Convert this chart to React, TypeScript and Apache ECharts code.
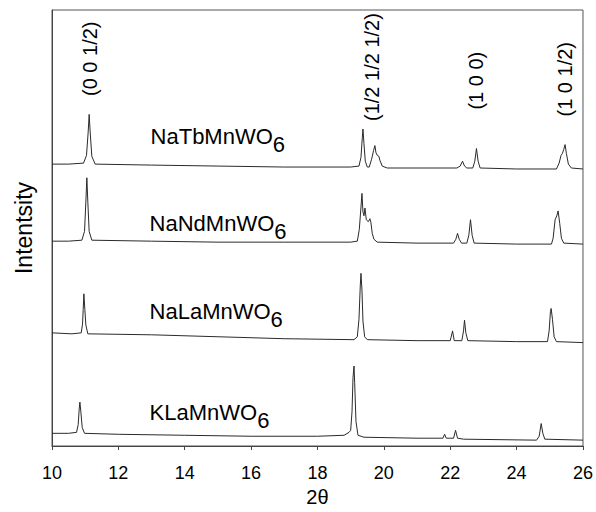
import React, { useEffect, useRef } from "react";
import * as echarts from "echarts";

// 2θ range and ticks
const xMin = 10;
const xMax = 26;
const xStep = 2;
// arbitrary intensity scale (stacked, offset traces)
const yMin = 0;
const yMax = 447;

// [2θ, intensity]
const naTbMnWO6: number[][] = [
  [10, 289], [10.5, 289], [10.95, 290], [11.04, 298], [11.09, 322], [11.12, 340], [11.15, 322], [11.2, 297], [11.3, 289],
  [13, 288], [15, 287], [17, 286], [19, 286], [19.25, 287], [19.31, 296], [19.35, 316], [19.37, 325], [19.4, 310],
  [19.44, 292], [19.5, 286], [19.56, 286], [19.63, 294], [19.69, 303], [19.73, 308], [19.76, 301], [19.8, 298],
  [19.85, 297], [19.88, 293], [19.95, 287], [20.1, 285], [21, 285], [22.2, 285], [22.3, 287], [22.37, 292],
  [22.43, 287], [22.5, 285], [22.68, 285], [22.74, 292], [22.79, 305], [22.84, 292], [22.9, 285], [24, 284],
  [25.2, 284], [25.28, 290], [25.34, 298], [25.38, 300], [25.42, 304], [25.46, 309], [25.5, 300], [25.56, 289],
  [25.65, 285], [26, 284],
];

const naNdMnWO6: number[][] = [
  [10, 210], [10.5, 210], [10.9, 211], [10.98, 220], [11.02, 250], [11.05, 275], [11.08, 250], [11.12, 220], [11.2, 211],
  [13, 210], [15, 209], [17, 209], [19, 209], [19.2, 210], [19.26, 222], [19.31, 245], [19.34, 259], [19.37, 240],
  [19.4, 236], [19.43, 244], [19.47, 232], [19.53, 230], [19.58, 233], [19.61, 229], [19.65, 218], [19.7, 212],
  [19.8, 209], [21, 208], [22.1, 208], [22.17, 212], [22.22, 218], [22.27, 212], [22.34, 208], [22.5, 208],
  [22.56, 216], [22.61, 232], [22.66, 216], [22.72, 208], [24, 207], [25.05, 207], [25.1, 213], [25.16, 232],
  [25.21, 236], [25.25, 241], [25.3, 228], [25.35, 213], [25.42, 208], [26, 207],
];

const naLaMnWO6: number[][] = [
  [10, 116], [10.6, 115], [10.88, 116], [10.92, 125], [10.94, 140], [10.96, 156], [10.99, 140], [11.02, 124], [11.08, 115],
  [13, 114], [15, 112], [17, 110], [19.1, 109], [19.2, 112], [19.25, 130], [19.29, 165], [19.31, 177], [19.34, 160],
  [19.37, 128], [19.42, 112], [19.5, 109], [21, 108], [22.0, 108], [22.07, 118], [22.12, 108], [22.35, 108],
  [22.4, 118], [22.43, 129], [22.47, 116], [22.53, 108], [24, 107], [24.93, 107], [24.98, 118], [25.02, 138],
  [25.04, 141], [25.08, 130], [25.13, 112], [25.2, 107], [26, 106],
];

const kLaMnWO6: number[][] = [
  [10, 13], [10.5, 13], [10.74, 14], [10.79, 22], [10.82, 38], [10.84, 45], [10.87, 35], [10.91, 19], [10.98, 13],
  [12, 12], [14, 11], [16, 10], [18, 10], [18.8, 11], [18.95, 14], [19.0, 16], [19.04, 35], [19.07, 70], [19.1, 82],
  [19.12, 65], [19.16, 25], [19.22, 11], [19.4, 9], [21, 8], [21.78, 8], [21.83, 12], [21.88, 8], [22.1, 8],
  [22.16, 16], [22.22, 8], [22.4, 7], [24.6, 6], [24.68, 10], [24.74, 23], [24.79, 13], [24.85, 7], [26, 6],
];

// compound names: main text, subscript, anchor 2θ (left edge), anchor intensity (text middle)
const compoundNames: string[] = ["NaTbMnWO", "NaNdMnWO", "NaLaMnWO", "KLaMnWO"];
const compoundSub = "6";
const compoundAnchorX: number[] = [12.97, 12.94, 12.94, 12.94];
const compoundAnchorY: number[] = [317, 228.5, 137.5, 34.5];

// reflection (hkl) annotations
const hklLabels: string[] = ["(0 0 1/2)", "(1/2 1/2 1/2)", "(1 0 0)", "(1 0 1/2)"];
const hklX: number[] = [11.14, 19.64, 22.79, 25.46];
const hklY: number[] = [397, 388.5, 374.5, 376];

const traces = [naTbMnWO6, naNdMnWO6, naLaMnWO6, kLaMnWO6];

const FONT = "'Liberation Sans', Arial, sans-serif";
const NAME_SIZE = 22;
const SUB_DROP = 8;

export default function App() {
  const ref = useRef<HTMLDivElement>(null);

  useEffect(() => {
    if (!ref.current) return;
    const chart = echarts.init(ref.current, undefined, { renderer: "svg" });

    const series: any[] = traces.map((data, i) => {
      const s: any = {
        type: "line",
        data,
        showSymbol: false,
        symbol: "none",
        lineStyle: { color: "#2a2a2a", width: 1 },
        silent: true,
      };
      if (i === 0) {
        s.markPoint = {
          symbol: "circle",
          symbolSize: 0,
          itemStyle: { color: "transparent" },
          silent: true,
          data: hklLabels.map((t, k) => ({
            coord: [hklX[k], hklY[k]],
            label: {
              show: true,
              position: "inside",
              rotate: 90,
              align: "center",
              verticalAlign: "middle",
              formatter: t,
              fontSize: 20,
              fontFamily: FONT,
              color: "#000",
            },
          })),
        };
      }
      return s;
    });

    chart.setOption({
      animation: false,
      backgroundColor: "#fff",
      grid: {
        left: 52,
        right: 11,
        top: 10,
        bottom: 55,
        show: true,
        borderColor: "#555",
        borderWidth: 1,
        backgroundColor: "transparent",
      },
      xAxis: {
        type: "value",
        min: xMin,
        max: xMax,
        interval: xStep,
        name: "2θ",
        nameLocation: "middle",
        nameGap: 41,
        nameTextStyle: { fontSize: 20, fontFamily: FONT, color: "#000" },
        axisLine: { show: true, lineStyle: { color: "#444", width: 1 } },
        axisTick: { show: true, inside: false, length: 4, lineStyle: { color: "#444" } },
        axisLabel: { fontSize: 18, fontFamily: FONT, color: "#000", margin: 18 },
        splitLine: { show: false },
      },
      yAxis: {
        type: "value",
        min: yMin,
        max: yMax,
        name: "Intentsity",
        nameLocation: "middle",
        nameRotate: 90,
        nameGap: 17,
        nameTextStyle: { fontSize: 23, fontFamily: FONT, color: "#000" },
        axisLine: { show: true, lineStyle: { color: "#444", width: 1 } },
        axisTick: { show: false },
        axisLabel: { show: false },
        splitLine: { show: false },
      },
      series,
    });

    // compound names with lowered subscript, anchored to data coordinates
    const canvas = document.createElement("canvas");
    const ctx = canvas.getContext("2d");
    const font = `${NAME_SIZE}px 'Liberation Sans', Arial, sans-serif`;
    if (ctx) ctx.font = font;
    const graphics: any[] = [];
    compoundNames.forEach((name, i) => {
      const p = chart.convertToPixel({ xAxisIndex: 0, yAxisIndex: 0 }, [compoundAnchorX[i], compoundAnchorY[i]]) as number[];
      const w = ctx ? ctx.measureText(name).width : name.length * 12;
      graphics.push({
        type: "text",
        x: p[0],
        y: p[1],
        silent: true,
        style: { text: name, font, fill: "#000", textAlign: "left", textVerticalAlign: "middle" },
      });
      graphics.push({
        type: "text",
        x: p[0] + w,
        y: p[1] + SUB_DROP,
        silent: true,
        style: { text: compoundSub, font, fill: "#000", textAlign: "left", textVerticalAlign: "middle" },
      });
    });
    chart.setOption({ graphic: graphics });

    return () => chart.dispose();
  }, []);

  return (
    <div
      ref={ref}
      style={{ position: "fixed", left: 0, top: 0, width: 596, height: 512 }}
    />
  );
}
